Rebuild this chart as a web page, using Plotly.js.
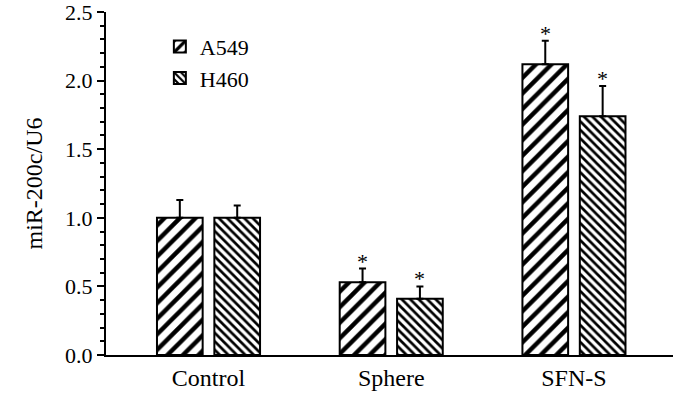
<!DOCTYPE html>
<html>
<head>
<meta charset="utf-8">
<script src="https://cdn.plot.ly/plotly-3.0.1.min.js"></script>
<style>html,body{margin:0;padding:0;background:#fff;}#chart{width:700px;height:395px;}</style>
</head>
<body>
<div id="chart"></div>
<script>
const categories = ["Control", "Sphere", "SFN-S"];
const seriesNames = ["A549", "H460"];
const a549Values = [1.00, 0.53, 2.12];
const a549Errors = [0.13, 0.10, 0.17];
const h460Values = [1.00, 0.41, 1.74];
const h460Errors = [0.09, 0.09, 0.22];
const a549Signif = [false, true, true];
const h460Signif = [false, true, true];
const yTickVals = [0, 0.5, 1.0, 1.5, 2.0, 2.5];
const yTickText = ["0.0", "0.5", "1.0", "1.5", "2.0", "2.5"];

const FONT = "Liberation Serif";
const offset = 0.157;
const barWidth = 0.25;
const idx = categories.map((c, i) => i);

function barTrace(name, vals, errs, dir, shape, size, solidity) {
  return {
    type: "bar",
    name: name,
    x: idx.map(i => i + dir * offset),
    y: vals,
    width: barWidth,
    marker: {
      color: "white",
      line: {color: "black", width: 2},
      pattern: {shape: shape, fgcolor: "black", bgcolor: "white", size: size, solidity: solidity, fillmode: "replace"}
    },
    error_y: {type: "data", array: errs, symmetric: false, arrayminus: errs.map(() => 0), color: "black", thickness: 2, width: 3.5}
  };
}

const traces = [
  barTrace(seriesNames[0], a549Values, a549Errors, -1, "/", 11, 0.4),
  barTrace(seriesNames[1], h460Values, h460Errors, 1, "\\", 6, 0.45)
];

const annotations = [];
function addStars(vals, errs, sig, dir) {
  vals.forEach((v, i) => {
    if (sig[i]) {
      annotations.push({
        x: i + dir * offset, y: v + errs[i], xref: "x", yref: "y",
        text: "*", showarrow: false, yanchor: "bottom", yshift: -7,
        font: {family: FONT, size: 22, color: "black"}
      });
    }
  });
}
addStars(a549Values, a549Errors, a549Signif, -1);
addStars(h460Values, h460Errors, h460Signif, 1);

const layout = {
  width: 700, height: 395,
  margin: {l: 106, r: 27, t: 12, b: 40},
  paper_bgcolor: "white", plot_bgcolor: "white",
  showlegend: true,
  legend: {x: 0.095, y: 0.96, xanchor: "left", yanchor: "top", bgcolor: "rgba(0,0,0,0)",
           font: {family: FONT, size: 22, color: "black"}, tracegroupgap: 0, itemwidth: 30},
  font: {family: FONT, color: "black"},
  xaxis: {
    range: [-0.561, 2.542], tickvals: idx, ticktext: categories,
    showline: true, linecolor: "black", linewidth: 2, ticks: "", showgrid: false, zeroline: false,
    tickfont: {family: FONT, size: 24, color: "black"}, fixedrange: true
  },
  yaxis: {
    range: [0, 2.5], tickvals: yTickVals, ticktext: yTickText, ticklabeloverflow: "allow",
    showline: true, linecolor: "black", linewidth: 2, ticks: "outside", ticklen: 7, tickwidth: 2, tickcolor: "black",
    minor: {dtick: 0.1, ticks: "outside", ticklen: 4, tickwidth: 2, tickcolor: "black", showgrid: false},
    showgrid: false, zeroline: false,
    tickfont: {family: FONT, size: 22, color: "black"},
    title: {text: "miR-200c/U6", font: {family: FONT, size: 24, color: "black"}, standoff: 16}
  },
  annotations: annotations
};

Plotly.newPlot("chart", traces, layout, {displayModeBar: false, staticPlot: true});
</script>
</body>
</html>
